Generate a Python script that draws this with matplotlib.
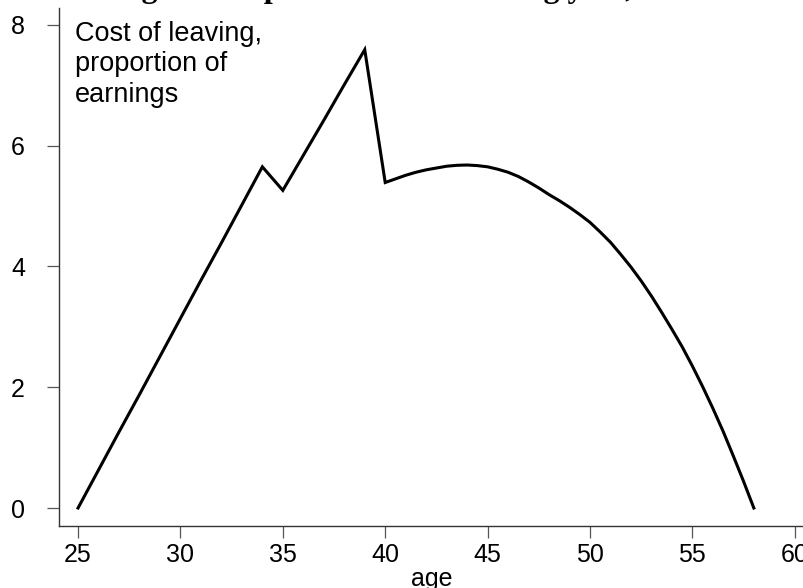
import matplotlib
matplotlib.use("Agg")
import matplotlib.pyplot as plt

# cost of leaving the scheme at each age, as a proportion of earnings
ages = [25, 26, 27, 28, 29, 30, 31, 32, 33, 34, 35, 36, 37, 38, 39, 40,
        41, 41.5, 42, 42.5, 43, 43.5, 44, 44.5, 45, 45.5, 46, 46.5, 47, 47.5,
        48, 48.5, 49, 49.5, 50, 50.5, 51, 51.5, 52, 52.5, 53, 53.5, 54, 54.5,
        55, 55.5, 56, 56.5, 57, 57.5, 58]
cost = [0.00, 0.63, 1.26, 1.88, 2.51, 3.14, 3.77, 4.39, 5.02, 5.65,
        5.26, 5.84, 6.42, 7.01, 7.59, 5.39,
        5.51, 5.56, 5.60, 5.63, 5.66, 5.675, 5.68, 5.67, 5.65, 5.61, 5.56,
        5.49, 5.40, 5.30, 5.19, 5.09, 4.98, 4.86, 4.73, 4.57, 4.40, 4.20,
        3.99, 3.76, 3.51, 3.24, 2.96, 2.67, 2.35, 2.01, 1.65, 1.27, 0.86,
        0.44, 0.00]

xticks = [25, 30, 35, 40, 45, 50, 55, 60]
yticks = [0, 2, 4, 6, 8]
title = "Figure 4: Spike in cost of leaving year, DB model"
note = "Cost of leaving,\nproportion of\nearnings"

plt.rcParams['font.family'] = ['Liberation Sans', 'DejaVu Sans']

fig = plt.figure(figsize=(8.04, 5.88), dpi=100)
ax = fig.add_axes([59 / 804, 62 / 588, 745 / 804, 518 / 588])

ax.plot(ages, cost, color='black', linewidth=2.2, solid_joinstyle='miter')

ax.set_xlim(24.07, 60.45)
ax.set_ylim(-0.298, 8.28)
ax.set_xticks(xticks)
ax.set_yticks(yticks)
ax.spines['top'].set_visible(False)
ax.spines['right'].set_visible(False)
for s in ['left', 'bottom']:
    ax.spines[s].set_color('#333333')
    ax.spines[s].set_linewidth(1.0)
ax.tick_params(axis='both', direction='out', length=8.5, width=0.9,
               color='#555555', labelsize=18)
ax.tick_params(axis='y', pad=16)
ax.tick_params(axis='x', pad=4)

ax.set_xlabel('age', fontsize=18, labelpad=0)
ax.text(0.0215, 0.975, note, transform=ax.transAxes, fontsize=19.5,
        va='top', ha='left', linespacing=1.22)

# title mostly above the visible area
fig.text(0.14, 1.0 + 3.5 / 588, title, fontsize=23, fontweight='bold',
         family='Liberation Serif', ha='left', va='baseline')

fig.savefig('out.png', dpi=100)
